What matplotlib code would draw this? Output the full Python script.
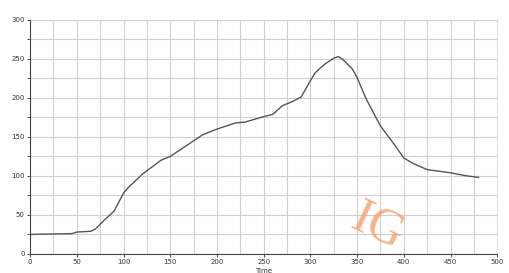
import matplotlib.pyplot as plt
import numpy as np

# values
time = [0, 45, 50, 65, 70, 80, 90, 100, 105, 120, 140, 150, 175, 185, 200,
        220, 230, 250, 260, 270, 280, 290, 300, 305, 315, 325, 330, 335, 345,
        350, 360, 375, 390, 400, 410, 425, 450, 465, 480]
value = [25, 26, 28, 29, 32, 44, 55, 78, 85, 102, 120, 125, 145, 153, 160,
         168, 169, 176, 179, 190, 195, 201, 222, 232, 243, 251, 253, 249, 237,
         226, 198, 164, 140, 123, 116, 108, 104, 100.5, 98]

x_ticks = [0, 50, 100, 150, 200, 250, 300, 350, 400, 450, 500]
y_ticks = [0, 50, 100, 150, 200, 250, 300]

fig = plt.figure(figsize=(5.10, 2.73), dpi=100)
ax = fig.add_axes([0.059, 0.07, 0.916, 0.857])

ax.plot(time, value, color='#555555', lw=1.0)

ax.set_xlim(0, 500)
ax.set_ylim(0, 300)
ax.set_xticks(x_ticks)
ax.set_yticks(y_ticks)
ax.set_xticks(np.arange(0, 501, 25), minor=True)
ax.set_yticks(np.arange(0, 301, 25), minor=True)
ax.grid(True, which='both', color='#d0d0d0', lw=0.8)
ax.set_axisbelow(True)

ax.tick_params(which='both', labelsize=5, colors='#333333', length=2, width=0.6, pad=2)
ax.tick_params(axis='x', which='minor', length=0)

ax.spines['top'].set_visible(False)
ax.spines['right'].set_color('#dddddd')
ax.spines['left'].set_color('#444444')
ax.spines['bottom'].set_color('#444444')

ax.set_xlabel('Time', fontsize=5, color='#333333', labelpad=2)

# faint watermark
fig.text(0.74, 0.17, 'IG', color='#f5a070', alpha=0.8, fontsize=36,
         family='Liberation Serif', rotation=-25, ha='center', va='center')

fig.savefig('out.png', dpi=100)
